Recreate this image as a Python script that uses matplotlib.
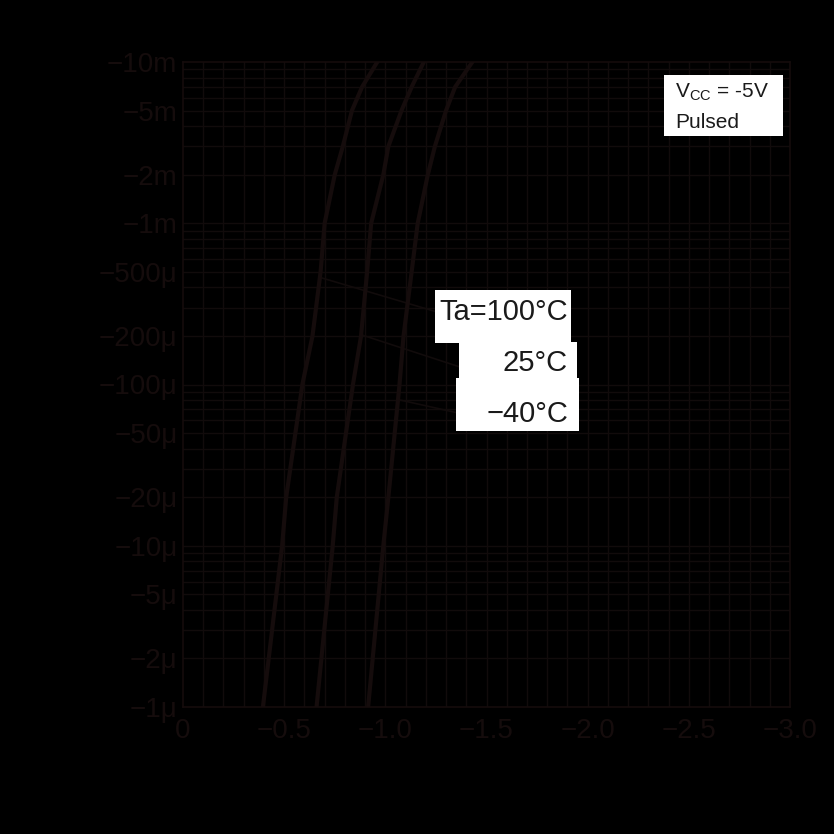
import matplotlib
matplotlib.use("Agg")
import matplotlib.pyplot as plt
from matplotlib.patches import Rectangle
import numpy as np

# Data (magnitudes; displayed as negative values)
ic = [1e-6, 1e-5, 2e-5, 1e-4, 2e-4, 5e-4, 1e-3, 2e-3, 3e-3, 5e-3, 7e-3, 1e-2]
vbe_100 = [0.395, 0.49, 0.51, 0.59, 0.64, 0.68, 0.70, 0.75, 0.79, 0.835, 0.885, 0.96]
vbe_25 = [0.66, 0.74, 0.76, 0.84, 0.88, 0.91, 0.93, 0.99, 1.015, 1.08, 1.13, 1.19]
vbe_m40 = [0.915, 0.99, 1.015, 1.07, 1.09, 1.13, 1.16, 1.21, 1.245, 1.30, 1.345, 1.43]

x_ticks = [0, 0.5, 1.0, 1.5, 2.0, 2.5, 3.0]
x_labels = ["0", "\u22120.5", "\u22121.0", "\u22121.5", "\u22122.0", "\u22122.5", "\u22123.0"]
y_ticks = [1e-2, 5e-3, 2e-3, 1e-3, 5e-4, 2e-4, 1e-4, 5e-5, 2e-5, 1e-5, 5e-6, 2e-6, 1e-6]
y_labels = ["\u221210m", "\u22125m", "\u22122m", "\u22121m", "\u2212500\u03bc", "\u2212200\u03bc",
            "\u2212100\u03bc", "\u221250\u03bc", "\u221220\u03bc", "\u221210\u03bc", "\u22125\u03bc",
            "\u22122\u03bc", "\u22121\u03bc"]

plt.rcParams['font.family'] = ['Liberation Sans', 'DejaVu Sans']

BG = "#000000"
DARK = "#150c0c"
GRID = "#110b0b"
TXT = "#1a1a1a"

W = H = 834
fig = plt.figure(figsize=(8.34, 8.34), dpi=100, facecolor=BG)
ax = fig.add_axes([183/W, 1-707/H, 607/W, 645/H], facecolor=BG)

ax.set_yscale('log')
ax.set_xlim(0, 3.0)
ax.set_ylim(1e-6, 1e-2)

# grid
for v in np.arange(0.1, 3.0, 0.1):
    ax.axvline(v, color=GRID, lw=1.0, zorder=1)
for dec in range(-6, -2):
    for m in range(1, 10):
        val = m * 10.0**dec
        if 1e-6 < val < 1e-2:
            ax.axhline(val, color=GRID, lw=1.0, zorder=1)

for s in ax.spines.values():
    s.set_color(DARK)
    s.set_linewidth(1.2)

for vb in (vbe_100, vbe_25, vbe_m40):
    ax.plot(vb, ic, color=DARK, lw=3.0, zorder=3, solid_joinstyle='round')

ax.set_xticks(x_ticks)
ax.set_xticklabels(x_labels)
ax.set_yticks(y_ticks)
ax.set_yticklabels(y_labels)
ax.minorticks_off()
ax.tick_params(axis='both', length=0, colors=DARK, labelsize=20)
ax.tick_params(axis='x', pad=8)
ax.tick_params(axis='y', pad=4)

def px2data(px, py):
    return ((px - 183) / 202.3, 10 ** (-6 + (707 - py) / 161.25))

# leader lines
for (x0, y0), (x1, y1) in [((322, 278), (437, 312)), ((362, 335), (460, 367)), ((400, 400), (458, 413))]:
    a = px2data(x0, y0)
    b = px2data(x1, y1)
    ax.plot([a[0], b[0]], [a[1], b[1]], color=GRID, lw=1.2, zorder=2)

def fig_box(x0, y0, x1, y1):
    fig.patches.append(Rectangle((x0/W, 1-y1/H), (x1-x0)/W, (y1-y0)/H,
                                 transform=fig.transFigure, facecolor='white',
                                 edgecolor='none', zorder=4))

# temperature label boxes
fig_box(435, 290, 571, 343)
fig_box(459, 342, 577, 379)
fig_box(456, 378, 579, 431)
fig.text(568/W, 1-312/H, "Ta=100\u00b0C", fontsize=21, ha='right', va='center', color=TXT, zorder=5)
fig.text(568/W, 1-363/H, "25\u00b0C", fontsize=21, ha='right', va='center', color=TXT, zorder=5)
fig.text(568/W, 1-414/H, "\u221240\u00b0C", fontsize=21, ha='right', va='center', color=TXT, zorder=5)

# VCC box
fig_box(664, 75, 783, 136)
fig.text(675/W, 1-92/H, "V$_{\\mathregular{CC}}$ = -5V", fontsize=15, ha='left', va='center', color=TXT, zorder=5)
fig.text(675/W, 1-123/H, "Pulsed", fontsize=15, ha='left', va='center', color=TXT, zorder=5)

fig.savefig("out.png", dpi=100, facecolor=BG)
